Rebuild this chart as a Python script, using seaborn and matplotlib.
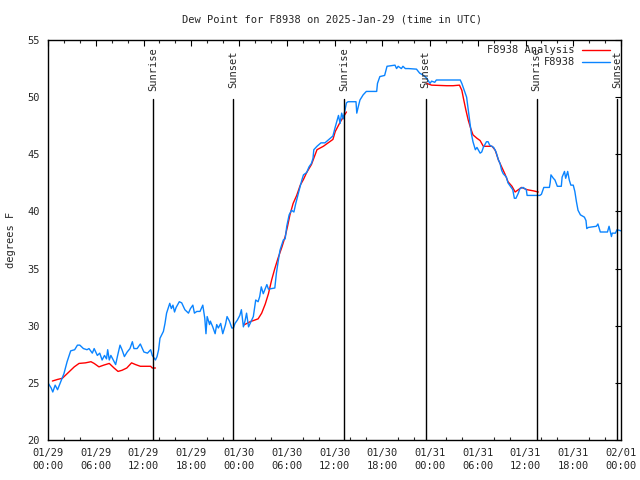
import numpy as np
import pandas as pd
import matplotlib
matplotlib.use("Agg")
import matplotlib.pyplot as plt
from matplotlib.lines import Line2D
import seaborn as sns

# ---------------- data (hours since 2025-01-29 00:00 UTC) ----------------
obs_hours = [0, 0.4, 0.6, 0.9, 1.2, 1.6, 2.0, 2.4, 2.85, 3.35, 3.7, 4.0, 4.45, 4.9, 5.15, 5.57, 5.8,
             6.2, 6.5, 6.8, 7.1, 7.35, 7.5, 7.7, 7.9, 8.2, 8.5, 8.75, 9.05, 9.3, 9.6, 9.95, 10.3,
             10.6, 10.8, 11.2, 11.6, 12.05, 12.5, 12.9, 13.1, 13.5, 13.7, 13.9, 14.07, 14.5, 14.7,
             14.9, 15.3, 15.5, 15.7, 15.9, 16.1, 16.5, 16.8, 17.2, 17.65, 17.9, 18.2, 18.4, 18.7,
             19.1, 19.45, 19.6, 19.7, 19.85, 20.0, 20.3, 20.4, 20.7, 21.0, 21.2, 21.4, 21.7, 21.96,
             22.3, 22.5, 22.8, 23.1, 23.3, 23.5, 23.8, 24.1, 24.3, 24.55, 24.75, 24.95, 25.2, 25.4,
             25.8, 26.1, 26.4, 26.6, 26.8, 27.05, 27.5, 27.7, 28.5, 28.7, 28.95, 29.15, 29.57, 29.8,
             30.0, 30.3, 30.6, 30.9, 31.1, 31.5, 31.9, 32.1, 32.5, 32.8, 33.1, 33.3, 33.4, 33.8,
             34.3, 34.8, 35.3, 35.8, 36.1, 36.5, 36.7, 36.9, 37.1, 37.5, 37.7, 38.2, 38.7, 38.8,
             39.0, 39.2, 39.6, 40.0, 41.3, 41.4, 41.7, 42.3, 42.6, 43.6, 43.8, 44.0, 44.4, 44.6,
             44.9, 45.3, 46.3, 46.7, 47.2, 47.6, 48.0, 48.2, 48.6, 48.8, 51.8, 52.0, 52.2, 52.6,
             52.8, 53.0, 53.2, 53.4, 53.7, 53.9, 54.3, 54.5, 54.7, 55.1, 55.3, 55.5, 56.0, 56.3,
             56.6, 56.8, 57.0, 57.2, 57.6, 57.8, 58.1, 58.4, 58.6, 58.8, 59.1, 59.3, 59.7, 60.1,
             60.2, 61.8, 62.0, 62.3, 63.0, 63.1, 63.2, 63.5, 63.7, 64.0, 64.5, 64.6, 64.9, 65.05,
             65.3, 65.5, 65.7, 66.0, 66.2, 66.4, 66.6, 66.9, 67.4, 67.6, 67.7, 67.9, 68.9, 69.1,
             69.4, 70.3, 70.5, 70.8, 70.9, 71.3, 71.5, 72.0]
obs_dewpt = [25.0, 24.55, 24.2, 24.8, 24.4, 25.1, 25.8, 26.85, 27.8, 27.9, 28.3, 28.3, 28.0, 27.9, 28.0,
             27.6, 28.0, 27.4, 27.6, 27.0, 27.4, 27.1, 27.9, 27.0, 27.4, 27.0, 26.6, 27.4, 28.3, 27.9,
             27.3, 27.7, 28.0, 28.6, 28.0, 28.0, 28.4, 27.7, 27.6, 27.9, 27.4, 27.0, 27.3, 27.9, 28.9,
             29.5, 30.2, 31.1, 31.96, 31.5, 31.8, 31.2, 31.6, 32.1, 32.0, 31.4, 31.1, 31.5, 31.8, 31.1,
             31.25, 31.25, 31.8, 31.1, 30.65, 29.3, 30.8, 30.1, 30.4, 29.9, 29.3, 30.1, 29.8, 30.2,
             29.3, 30.1, 30.8, 30.4, 29.8, 29.8, 30.2, 30.5, 30.9, 31.4, 29.9, 30.4, 31.1, 29.9, 30.2,
             30.8, 32.25, 32.1, 32.55, 33.4, 32.8, 33.6, 33.2, 33.3, 34.6, 35.75, 36.6, 37.5, 37.6,
             38.7, 39.7, 40.1, 39.95, 40.6, 41.7, 42.75, 43.2, 43.4, 43.9, 44.2, 44.65, 45.4, 45.7,
             46.0, 46.0, 46.3, 46.6, 47.4, 48.4, 47.7, 48.6, 48.1, 49.5, 49.6, 49.6, 49.6, 48.6,
             49.2, 49.75, 50.2, 50.5, 50.5, 51.2, 51.8, 51.9, 52.7, 52.8, 52.5, 52.7, 52.5, 52.7,
             52.5, 52.5, 52.45, 52.1, 51.9, 51.65, 51.2, 51.4, 51.3, 51.5, 51.5, 51.2, 50.8, 50.0,
             48.9, 47.85, 46.8, 46.1, 45.4, 45.6, 45.1, 45.2, 45.6, 46.1, 46.1, 45.8, 45.6, 45.2,
             44.5, 44.2, 43.6, 43.3, 43.0, 42.5, 42.2, 41.9, 41.15, 41.15, 41.6, 42.0, 42.1, 41.9,
             41.4, 41.4, 41.5, 42.1, 42.1, 42.5, 43.2, 42.9, 42.75, 42.2, 42.2, 43.0, 43.5, 42.9,
             43.5, 42.75, 42.3, 42.3, 41.75, 40.85, 40.1, 39.7, 39.5, 39.2, 38.5, 38.6, 38.7, 38.9,
             38.2, 38.2, 38.7, 37.8, 38.1, 38.1, 38.4, 38.3]

ana_hours_1 = [0.55, 1.2, 1.8, 2.4, 3.3, 3.9, 4.7, 5.4, 5.8, 6.4, 7.0, 7.7, 8.3, 8.8, 9.3, 9.9, 10.5,
               11.0, 11.6, 12.9, 13.1, 13.5]
ana_dewpt_1 = [25.16, 25.3, 25.4, 25.8, 26.4, 26.7, 26.75, 26.85, 26.7, 26.4, 26.55, 26.7, 26.3, 26.0,
               26.1, 26.3, 26.75, 26.6, 26.45, 26.45, 26.3, 26.3]
ana_hours_2 = [24.6, 25.4, 26.4, 26.85, 27.3, 27.7, 28.1, 28.5, 28.9, 29.4, 29.8, 30.1, 30.4, 30.8,
               31.25, 31.7, 32.1, 32.5, 33.1, 33.8, 34.6, 35.8, 36.1, 36.7, 37.5]
ana_dewpt_2 = [30.06, 30.35, 30.6, 31.1, 31.9, 32.8, 34.0, 35.0, 35.9, 36.9, 37.8, 38.7, 39.7, 40.7,
               41.4, 42.3, 42.8, 43.4, 44.1, 45.4, 45.7, 46.3, 47.0, 47.8, 48.7]
ana_hours_3 = [47.6, 48.2, 50.1, 50.9, 51.7, 52.0, 52.2, 52.5, 52.8, 53.1, 53.4, 53.9, 54.3, 54.7,
               55.8, 56.2, 56.6, 57.0, 57.4, 57.8, 58.3, 58.7, 59.1, 59.5, 60.2, 61.0, 61.6]
ana_dewpt_3 = [51.2, 51.05, 51.0, 51.0, 51.05, 50.6, 49.9, 48.9, 48.0, 47.3, 46.7, 46.4, 46.2, 45.7,
               45.7, 45.35, 44.5, 43.9, 43.3, 42.6, 42.2, 41.7, 41.9, 42.1, 41.9, 41.8, 41.7]

sun_hours = [13.23, 23.3, 37.24, 47.46, 61.4, 71.5]
sun_labels = ["Sunrise", "Sunset", "Sunrise", "Sunset", "Sunrise", "Sunset"]

xtick_hours = list(range(0, 73, 6))
xtick_labels = ["01/29\n00:00", "01/29\n06:00", "01/29\n12:00", "01/29\n18:00",
                "01/30\n00:00", "01/30\n06:00", "01/30\n12:00", "01/30\n18:00",
                "01/31\n00:00", "01/31\n06:00", "01/31\n12:00", "01/31\n18:00",
                "02/01\n00:00"]
ytick_vals = [20, 25, 30, 35, 40, 45, 50, 55]

title = "Dew Point for F8938 on 2025-Jan-29 (time in UTC)"
legend_labels = ["F8938 Analysis", "F8938"]
RED = "#ff0000"
BLUE = "#0a84ff"

# ---------------- plotting ----------------
sns.set_style("white")
plt.rcParams["font.family"] = ["DejaVu Sans Mono"]
FS = 7.5

fig = plt.figure(figsize=(6.4, 4.8), dpi=100)
ax = fig.add_axes([48 / 640, 40 / 480, 573 / 640, 400 / 480])

obs = pd.DataFrame({"hour": obs_hours, "dewpt": obs_dewpt})
ana = pd.DataFrame({
    "hour": ana_hours_1 + ana_hours_2 + ana_hours_3,
    "dewpt": ana_dewpt_1 + ana_dewpt_2 + ana_dewpt_3,
    "seg": [1] * len(ana_hours_1) + [2] * len(ana_hours_2) + [3] * len(ana_hours_3),
})

sns.lineplot(data=ana, x="hour", y="dewpt", units="seg", estimator=None, color=RED,
             linewidth=1.0, ax=ax, legend=False, sort=False)
sns.lineplot(data=obs, x="hour", y="dewpt", color=BLUE, linewidth=1.0, ax=ax,
             legend=False, sort=False)

ax.set_xlim(0, 72)
ax.set_ylim(20, 55)

line_top = (440 - 99) / 400
for h, lab in zip(sun_hours, sun_labels):
    ax.axvline(h, ymin=0, ymax=line_top, color="black", linewidth=1.0)
    ax.text(h, 0.926, lab, transform=ax.get_xaxis_transform(), rotation=90,
            ha="center", va="center", fontsize=FS)

ax.set_xticks(xtick_hours)
ax.set_xticklabels(xtick_labels, fontsize=FS, linespacing=1.35)
ax.set_xticks(np.arange(0, 73, 2), minor=True)
ax.set_yticks(ytick_vals)
ax.set_yticklabels([str(v) for v in ytick_vals], fontsize=FS)
ax.tick_params(axis="both", which="major", direction="in", length=4.5, width=0.8,
               top=True, right=True, color="black", pad=6)
ax.tick_params(axis="x", which="minor", direction="in", length=2.5, width=0.8,
               top=True, bottom=True)
for s in ax.spines.values():
    s.set_color("black")
    s.set_linewidth(1.0)

ax.set_xlabel("")
ax.set_ylabel("degrees F", fontsize=FS, labelpad=8)
fig.text(332 / 640, 1 - 19 / 480, title, ha="center", va="center", fontsize=FS)

# legend (gnuplot style, right-aligned text with line samples)
for i, (lab, col) in enumerate(zip(legend_labels, [RED, BLUE])):
    yy = 0.975 - i * 0.031
    ax.text(0.9197, yy, lab, transform=ax.transAxes, ha="right", va="center", fontsize=FS)
    ax.add_line(Line2D([0.932, 0.981], [yy, yy], transform=ax.transAxes, color=col,
                       linewidth=1.0))

fig.savefig("out.png", dpi=100)
